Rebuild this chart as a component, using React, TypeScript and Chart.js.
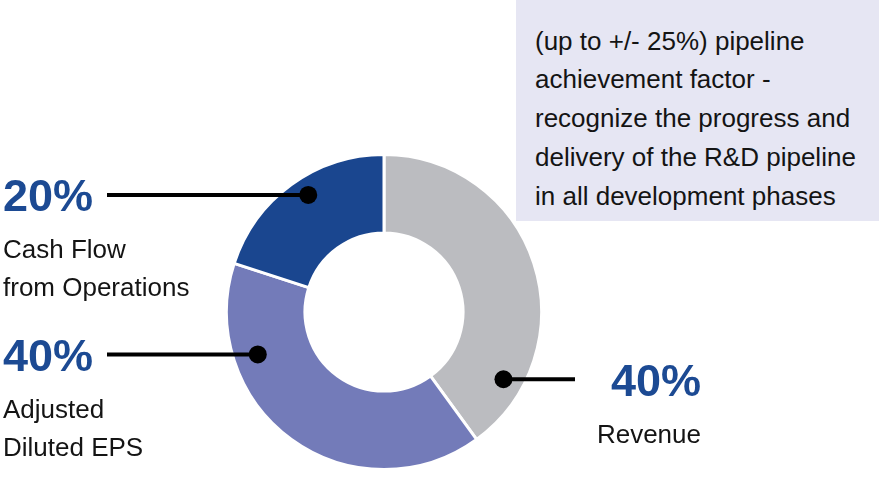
import React, { useEffect, useRef } from "react";
import { Chart, registerables } from "chart.js";

Chart.register(...registerables);

// ---- data ----
const categories = ["Revenue", "Adjusted Diluted EPS", "Cash Flow from Operations"];
const weights = [40, 40, 20];
const sliceColors = ["#bbbcc0", "#737bb9", "#1a468f"];
const descriptionLines = [["Revenue"], ["Adjusted", "Diluted EPS"], ["Cash Flow", "from Operations"]];
const labelSides = ["right", "left", "left"];
// where the callout dot sits inside its slice (fraction of the slice's angle / ring width)
const dotAngleFractions = [0.829, 0.746, 0.543];
const dotRadialFractions = [0.74, 0.69, 0.77];
const noteLines = [
  "(up to +/- 25%) pipeline",
  "achievement factor -",
  "recognize the progress and",
  "delivery of the R&D pipeline",
  "in all development phases",
];

const FONT = "'Liberation Sans', Arial, sans-serif";
const PCT_COLOR = "#1c4a93";
const TEXT_COLOR = "#141414";
const LEFT_TEXT_X = 3;
const LEFT_LINE_X = 107;
const RIGHT_TEXT_X = 701;
const RIGHT_LINE_X = 575;

const calloutPlugin = {
  id: "callouts",
  afterDatasetsDraw(chart: any) {
    const ctx = chart.ctx as CanvasRenderingContext2D;
    const meta = chart.getDatasetMeta(0);
    meta.data.forEach((el: any, i: number) => {
      const { x, y, startAngle, endAngle, innerRadius, outerRadius } = el;
      const a = startAngle + (endAngle - startAngle) * dotAngleFractions[i];
      const r = innerRadius + (outerRadius - innerRadius) * dotRadialFractions[i];
      const px = x + Math.cos(a) * r;
      const py = y + Math.sin(a) * r;
      const left = labelSides[i] === "left";
      const lineEnd = left ? LEFT_LINE_X : RIGHT_LINE_X;
      const tx = left ? LEFT_TEXT_X : RIGHT_TEXT_X;
      ctx.save();
      ctx.strokeStyle = "#000";
      ctx.lineWidth = 4;
      ctx.beginPath();
      ctx.moveTo(lineEnd, py);
      ctx.lineTo(px, py);
      ctx.stroke();
      ctx.beginPath();
      ctx.arc(px, py, 9, 0, Math.PI * 2);
      ctx.fillStyle = "#000";
      ctx.fill();
      ctx.textAlign = left ? "left" : "right";
      ctx.textBaseline = "alphabetic";
      ctx.font = `bold 45px ${FONT}`;
      ctx.fillStyle = PCT_COLOR;
      ctx.fillText(`${weights[i]}%`, tx, py + 16.5);
      ctx.font = `26px ${FONT}`;
      ctx.fillStyle = TEXT_COLOR;
      descriptionLines[i].forEach((t, k) => {
        ctx.fillText(t, tx, py + 63.5 + k * 38);
      });
      ctx.restore();
    });
  },
};

export default function App() {
  const canvasRef = useRef<HTMLCanvasElement | null>(null);

  useEffect(() => {
    if (!canvasRef.current) return;
    const chart = new Chart(canvasRef.current, {
      type: "doughnut",
      data: {
        labels: categories,
        datasets: [
          {
            data: weights,
            backgroundColor: sliceColors,
            borderColor: "#ffffff",
            borderWidth: 3,
            borderAlign: "center",
            hoverOffset: 0,
          },
        ],
      },
      options: {
        responsive: false,
        devicePixelRatio: 1,
        animation: false,
        events: [],
        radius: 157.5,
        cutout: 78.5,
        layout: { padding: { left: 226, right: 343, top: 154, bottom: 8 } },
        plugins: {
          legend: { display: false },
          tooltip: { enabled: false },
        },
      } as any,
      plugins: [calloutPlugin],
    });
    return () => chart.destroy();
  }, []);

  return (
    <div style={{ position: "fixed", left: 0, top: 0, width: 885, height: 478, background: "#fff", overflow: "hidden" }}>
      <canvas ref={canvasRef} width={885} height={478} style={{ position: "absolute", left: 0, top: 0 }} />
      <div
        style={{
          position: "absolute",
          left: 516,
          top: 0,
          width: 363,
          height: 221,
          boxSizing: "border-box",
          background: "#e6e6f3",
          paddingLeft: 19,
          paddingTop: 21.6,
          fontFamily: FONT,
          fontSize: 26,
          lineHeight: "38.75px",
          color: TEXT_COLOR,
          whiteSpace: "nowrap",
        }}
      >
        {noteLines.map((t, i) => (
          <div key={i}>{t}</div>
        ))}
      </div>
    </div>
  );
}
